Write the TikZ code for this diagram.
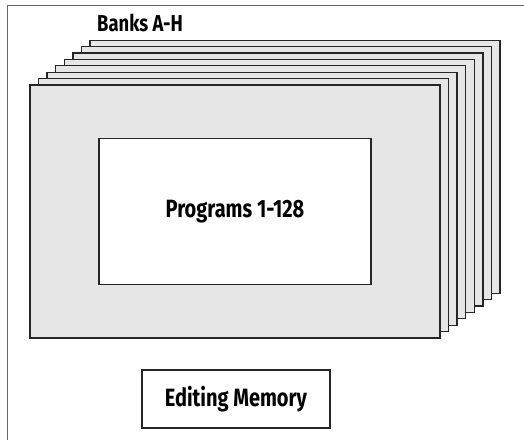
\documentclass[tikz,border=0pt]{standalone}
\usepackage{fontspec}
\newfontfamily\bankfont{Fira Sans}[FakeStretch=0.8]
\definecolor{sheetgray}{RGB}{230,230,230}
\definecolor{edgegray}{RGB}{38,38,38}
\tikzset{
  sheet/.style={draw=edgegray,line width=1.3pt,fill=sheetgray,minimum width=410pt,minimum height=253pt,inner sep=0pt},
  membox/.style={draw=edgegray,line width=1.3pt,fill=white,inner sep=0pt,font=\bankfont\bfseries\fontsize{25}{28}\selectfont},
}

\begin{document}
\begin{tikzpicture}[x=1pt,y=-1pt]
\useasboundingbox (0,0) rectangle (524,439);
\draw[line width=0.9pt,gray!80!black] (7,5) rectangle (540,460);
\foreach \i in {7,...,0}{
\node[sheet] (sheet\i) at ({235+8.57*\i},{211.5-6.4*\i}) {};
}
\node[membox,minimum width=272pt,minimum height=146pt] (progs) at (sheet0.center) {Programs 1-128};
\node[anchor=base west,inner sep=0pt,font=\bankfont\bfseries\fontsize{23}{26}\selectfont] (banks) at (97,31) {Banks A-H};
\node[membox,minimum width=188pt,minimum height=58pt] (edit) at (236,399) {Editing Memory};
\end{tikzpicture}
\end{document}
